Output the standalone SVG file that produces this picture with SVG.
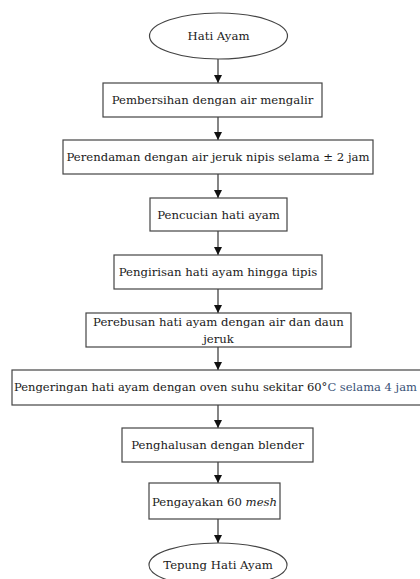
<svg xmlns="http://www.w3.org/2000/svg" width="420" height="579" viewBox="0 0 420 579">
<defs>
<marker id="ah" markerWidth="8" markerHeight="8" refX="8" refY="4" orient="auto" markerUnits="userSpaceOnUse">
<path d="M0,0 L8,4 L0,8 Z" fill="#111"/>
</marker>
<style>
.b{fill:#fff;stroke:#444;stroke-width:1.2}
.t{font-family:"DejaVu Serif","Liberation Serif",serif;font-size:11.7px;fill:#1a1a1a;text-anchor:middle}
.c{stroke:#333;stroke-width:1.2;fill:none;marker-end:url(#ah)}
.blue{fill:#3a5277}
</style>
</defs>
<rect width="420" height="579" fill="#fff"/>
<g id="connectors">
<line class="c" x1="218" y1="59" x2="218" y2="83"/>
<line class="c" x1="218" y1="117" x2="218" y2="140"/>
<line class="c" x1="218" y1="174" x2="218" y2="198"/>
<line class="c" x1="218" y1="231" x2="218" y2="255"/>
<line class="c" x1="218" y1="289" x2="218" y2="313"/>
<line class="c" x1="218" y1="347" x2="218" y2="370"/>
<line class="c" x1="218" y1="405" x2="218" y2="428"/>
<line class="c" x1="218" y1="462" x2="218" y2="483"/>
<line class="c" x1="218" y1="519" x2="218" y2="543"/>
</g>
<g id="start">
<ellipse class="b" cx="218.5" cy="36" rx="69" ry="23"/>
<text class="t" x="218.5" y="40">Hati Ayam</text>
</g>
<g id="n1">
<rect class="b" x="103" y="83" width="219" height="34"/>
<text class="t" x="212.5" y="104">Pembersihan dengan air mengalir</text>
</g>
<g id="n2">
<rect class="b" x="63" y="140" width="310" height="34"/>
<text class="t" x="218" y="161" textLength="303" lengthAdjust="spacingAndGlyphs">Perendaman dengan air jeruk nipis selama ± 2 jam</text>
</g>
<g id="n3">
<rect class="b" x="150" y="198" width="137" height="33"/>
<text class="t" x="218.5" y="219">Pencucian hati ayam</text>
</g>
<g id="n4">
<rect class="b" x="114" y="255" width="208" height="34"/>
<text class="t" x="218" y="276">Pengirisan hati ayam hingga tipis</text>
</g>
<g id="n5">
<rect class="b" x="86" y="313" width="265" height="34"/>
<text class="t" x="218.5" y="326">Perebusan hati ayam dengan air dan daun</text>
<text class="t" x="218.5" y="343">jeruk</text>
</g>
<g id="n6">
<rect class="b" x="12" y="370" width="412" height="35"/>
<text class="t" x="14" y="391" style="text-anchor:start" textLength="403" lengthAdjust="spacingAndGlyphs">Pengeringan hati ayam dengan oven suhu sekitar 60°<tspan class="blue">C selama 4 jam</tspan></text>
</g>
<g id="n7">
<rect class="b" x="122" y="428" width="191" height="34"/>
<text class="t" x="217.5" y="449">Penghalusan dengan blender</text>
</g>
<g id="n8">
<rect class="b" x="149" y="483" width="131" height="36"/>
<text class="t" x="214.5" y="506">Pengayakan 60 <tspan font-style="italic">mesh</tspan></text>
</g>
<g id="end">
<ellipse class="b" cx="218" cy="565" rx="69" ry="22"/>
<text class="t" x="218" y="569">Tepung Hati Ayam</text>
</g>
</svg>
